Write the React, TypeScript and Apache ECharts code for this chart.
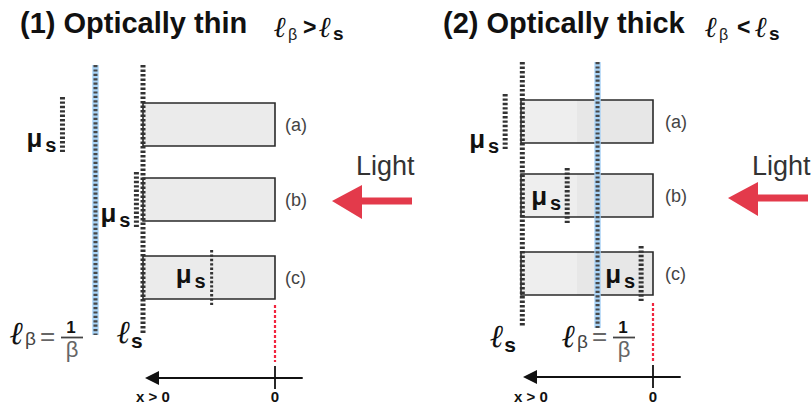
import React, { useEffect, useRef } from 'react';
import * as echarts from 'echarts';

// ---- content / data ----
const panelTitles = ['(1) Optically thin', '(2) Optically thick'];
const panelRelations = ['>', '<'];
const rowLabels = ['(a)', '(b)', '(c)'];
// depths measured from the illuminated face (x = 0), in units of slab thickness
const slabDepth = [0, 1];
const thinMuDepth = [1.61, 1.05, 0.48];
const thickMuDepth = [1.12, 0.65, 0.09];
const ellSDepth = [1.0, 0.99];
const ellBetaDepth = [1.36, 0.42];
const axisDepth = [0.985, -0.21];
const thickShadeDepth = 0.58;
const lightLabel = 'Light';
const axisTickLabels = ['x > 0', '0'];

// ---- layout (pixels) ----
const L = [
  {
    gridLeft: 143, titleX: 20, sym: [274, 288, 303, 319, 333],
    rowTop: [103, 178, 256], muBase: [147, 222, 283], muW: [5, 5, 3],
    vTop: 65, sBot: 333, bBot: 335, redY: [305, 362], axisY: 378,
    ellSOff: -26, ellSBase: 343, ellBX: 10, ellBBase: 344,
    rowLabelX: 285, arrow: [332, 201], lightX: 356,
  },
  {
    gridLeft: 521, titleX: 443, sym: [705, 719, 737, 755, 769],
    rowTop: [100, 174, 252], muBase: [148, 205, 283], muW: [5, 5, 5],
    vTop: 62, sBot: 327, bBot: 328, redY: [303, 363], axisY: 377,
    ellSOff: -32, ellSBase: 347, ellBX: 562, ellBBase: 347,
    rowLabelX: 665, arrow: [728, 198], lightX: 752,
  },
];
const BOX_H = 43;
const SANS = 'Liberation Sans, Arial, sans-serif';
const SERIF = 'DejaVu Serif, serif';

function txt(x: number, base: number, text: string, fontSize: number, extra: any = {}) {
  return {
    type: 'text', x, y: base - 0.35 * fontSize, silent: true, z: 20,
    style: {
      text, fontSize, fontFamily: SANS, fill: '#111', align: 'left', verticalAlign: 'middle',
      ...extra,
    },
  };
}
function vline(x: number, y1: number, y2: number, stroke: string, lineWidth: number, dash: number[] | null, z = 10) {
  return {
    type: 'line', silent: true, z,
    shape: { x1: x, y1, x2: x, y2 },
    style: { stroke, lineWidth, lineDash: dash || undefined },
  };
}

export default function App() {
  const ref = useRef<HTMLDivElement>(null);
  useEffect(() => {
    if (!ref.current) return;
    const chart = echarts.init(ref.current, null, { renderer: 'svg' });
    chart.setOption({
      animation: false,
      grid: L.map((l) => ({ left: l.gridLeft, width: 132, top: 60, height: 280 })),
      xAxis: L.map((_, i) => ({ type: 'value', gridIndex: i, min: 0, max: 1, inverse: true, show: false })),
      yAxis: L.map((_, i) => ({ type: 'value', gridIndex: i, min: 0, max: 1, show: false })),
      series: L.map((_, i) => ({ type: 'scatter', xAxisIndex: i, yAxisIndex: i, data: [] })),
    });
    const px = (p: number, d: number) => chart.convertToPixel({ xAxisIndex: p }, d) as number;

    const ell = { fontFamily: SERIF, fontStyle: 'italic', fontWeight: 'bold' };
    const els: any[] = [];
    L.forEach((l, p) => {
      const mu = p === 0 ? thinMuDepth : thickMuDepth;
      const x0 = px(p, slabDepth[0]);
      const x1 = px(p, slabDepth[1]);
      // title
      els.push(txt(l.titleX, 33, panelTitles[p], 29, { fontWeight: 'bold' }));
      els.push(txt(l.sym[0], 37, 'ℓ', 29, ell));
      els.push(txt(l.sym[1], 40, 'β', 16, { fill: '#222' }));
      els.push(txt(l.sym[2], 35, panelRelations[p], 23, { fontWeight: 'bold' }));
      els.push(txt(l.sym[3], 37, 'ℓ', 29, ell));
      els.push(txt(l.sym[4], 40, 's', 19, { fontWeight: 'bold' }));

      // slabs
      rowLabels.forEach((lab, r) => {
        const top = l.rowTop[r];
        if (p === 0) {
          els.push({ type: 'rect', silent: true, z: 1, shape: { x: x1, y: top, width: x0 - x1, height: BOX_H }, style: { fill: '#ebebeb' } });
        } else {
          const xs = px(p, thickShadeDepth);
          els.push({ type: 'rect', silent: true, z: 1, shape: { x: x1, y: top, width: xs - x1, height: BOX_H }, style: { fill: '#eeeeee' } });
          els.push({ type: 'rect', silent: true, z: 1, shape: { x: xs, y: top, width: x0 - xs, height: BOX_H }, style: { fill: '#e7e7e7' } });
        }
        els.push({ type: 'rect', silent: true, z: 2, shape: { x: x1, y: top, width: x0 - x1, height: BOX_H }, style: { fill: 'none', stroke: '#2a2a2a', lineWidth: 1.6 } });
        els.push(txt(l.rowLabelX, top + BOX_H / 2 + 7, lab, 18, { fill: '#444' }));
        // mu_s
        const mx = px(p, mu[r]);
        els.push(vline(mx, top - 6, top + BOX_H + 6, '#333', l.muW[r], [2.4, 2], 12));
        els.push(txt(mx - 20, l.muBase[r], 'μ', 26, { fontWeight: 'bold', align: 'right' }));
        els.push(txt(mx - 6, l.muBase[r] + 5, 's', 20, { fontWeight: 'bold', align: 'right' }));
      });

      // l_s line
      const sx = px(p, ellSDepth[p]);
      els.push(vline(sx, l.vTop, l.sBot, '#333', 5, [2.5, 2], 11));
      els.push(txt(sx + l.ellSOff, l.ellSBase, 'ℓ', 32, ell));
      els.push(txt(sx + l.ellSOff + 14, l.ellSBase + 5, 's', 21, { fontWeight: 'bold' }));

      // l_beta line
      const bx = px(p, ellBetaDepth[p]);
      els.push({ type: 'rect', silent: true, z: 9, shape: { x: bx - 3.2, y: l.vTop, width: 6.4, height: l.bBot - l.vTop }, style: { fill: '#a9d3f6' } });
      els.push(vline(bx, l.vTop, l.bBot, '#474747', 4, [2.2, 2.2], 11));
      const ex = l.ellBX;
      els.push(txt(ex, l.ellBBase, 'ℓ', 32, ell));
      els.push(txt(ex + 15, l.ellBBase + 1, 'β', 19, { fill: '#444' }));
      els.push(txt(ex + 30, 345, '=', 26, { fill: '#666' }));
      els.push(txt(ex + 61, 333, '1', 17, { fontWeight: 'bold', align: 'center' }));
      els.push({ type: 'line', silent: true, z: 20, shape: { x1: ex + 51, y1: 337.5, x2: ex + 73, y2: 337.5 }, style: { stroke: '#444', lineWidth: 1.8 } });
      els.push(txt(ex + 62, 357.5, 'β', 22, { fill: '#666', align: 'center' }));

      // red x = 0 marker
      els.push(vline(x0, l.redY[0], l.redY[1], '#f0253f', 2.2, [3, 2], 5));

      // depth axis
      const tip = px(p, axisDepth[0]);
      const tail = px(p, axisDepth[1]);
      const ay = l.axisY;
      els.push({ type: 'line', silent: true, z: 5, shape: { x1: tip + 12, y1: ay, x2: tail, y2: ay }, style: { stroke: '#111', lineWidth: 2 } });
      els.push({ type: 'polygon', silent: true, z: 5, shape: { points: [[tip, ay], [tip + 14, ay - 7], [tip + 14, ay + 7]] }, style: { fill: '#111' } });
      els.push({ type: 'line', silent: true, z: 5, shape: { x1: x0, y1: ay - 12, x2: x0, y2: ay + 11 }, style: { stroke: '#111', lineWidth: 1.8 } });
      els.push(txt(tip + 8, 402, axisTickLabels[0], 15, { fontWeight: 'bold', align: 'center' }));
      els.push(txt(x0, 402, axisTickLabels[1], 15, { fontWeight: 'bold', align: 'center' }));

      // light arrow
      const [ax, ayy] = l.arrow;
      els.push({
        type: 'polygon', silent: true, z: 5,
        shape: { points: [[ax, ayy], [ax + 30, ayy - 16], [ax + 30, ayy - 3.5], [ax + 80, ayy - 3.5], [ax + 80, ayy + 3.5], [ax + 30, ayy + 3.5], [ax + 30, ayy + 18]] },
        style: { fill: '#e33a4b' },
      });
      els.push(txt(l.lightX, 175, lightLabel, 27, { fill: '#333' }));
    });

    chart.setOption({ graphic: { elements: els } });
    return () => chart.dispose();
  }, []);
  return <div ref={ref} style={{ position: 'fixed', left: 0, top: 0, width: 811, height: 406, background: '#fff' }} />;
}
